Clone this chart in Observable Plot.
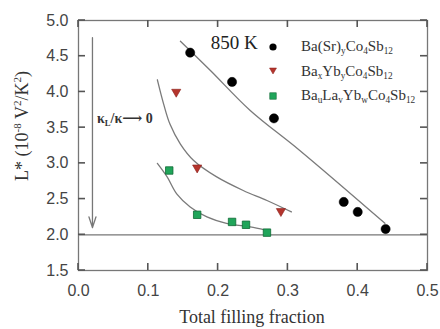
<!DOCTYPE html>
<html>
<head>
<meta charset="utf-8">
<script src="https://cdn.jsdelivr.net/npm/d3@7"></script>
<script src="https://cdn.jsdelivr.net/npm/@observablehq/plot@0.6"></script>
<style>
  html, body { margin: 0; padding: 0; background: #fff; }
  #chart { position: relative; width: 440px; height: 329px; }
  .serif { font-family: "Liberation Serif", "DejaVu Serif", serif; color: #333; position: absolute; white-space: nowrap; }
  .serif sub { font-size: 0.62em; vertical-align: -0.35em; line-height: 0; }
</style>
</head>
<body>
<div id="chart"></div>
<script>
// Axis ticks
const xTicks = [0.0, 0.1, 0.2, 0.3, 0.4, 0.5];
const yTicks = [1.5, 2.0, 2.5, 3.0, 3.5, 4.0, 4.5, 5.0];

// Ba(Sr)yCo4Sb12
const srX = [0.16, 0.22, 0.28, 0.38, 0.40, 0.44];
const srY = [4.55, 4.14, 3.63, 2.46, 2.32, 2.08];
// BaxYbyCo4Sb12
const ybX = [0.14, 0.17, 0.29];
const ybY = [4.00, 2.94, 2.33];
// BauLavYbwCo4Sb12
const laX = [0.13, 0.17, 0.22, 0.24, 0.27];
const laY = [2.90, 2.28, 2.18, 2.14, 2.03];

// Guide curves through each series
const srFitX = [0.146, 0.189, 0.246, 0.317, 0.439];
const srFitY = [4.71, 4.30, 3.74, 3.18, 2.16];
const ybFitX = [0.113, 0.122, 0.131, 0.146, 0.165, 0.198, 0.236, 0.270, 0.305];
const ybFitY = [4.17, 3.83, 3.55, 3.27, 3.04, 2.81, 2.62, 2.48, 2.32];
const laFitX = [0.113, 0.127, 0.141, 0.160, 0.184, 0.212, 0.246, 0.267];
const laFitY = [3.00, 2.81, 2.57, 2.39, 2.25, 2.16, 2.11, 2.07];

// Limit line and the kappa arrow
const limitY = [2.0];
const arrowX = 0.02, arrowTop = 4.76, arrowBottom = 2.10;
const tempLabel = "850 K";

const pts = (xs, ys) => xs.map((x, i) => ({x, y: ys[i]}));
const sr = pts(srX, srY), yb = pts(ybX, ybY), la = pts(laX, laY);

const axisColor = "#777";
const lineColor = "#7a7a7a";
const red = "#b4342c", redEdge = "#8a1f1a";
const green = "#20a55a", greenEdge = "#0f6a35";

const chart = Plot.plot({
  width: 440,
  height: 329,
  marginLeft: 78,
  marginRight: 13,
  marginTop: 20,
  marginBottom: 59,
  style: {fontFamily: "'Liberation Sans', Arial, sans-serif", fontSize: "16px", color: "#444", background: "#fff"},
  x: {domain: [0, 0.5]},
  y: {domain: [1.5, 5]},
  marks: [
    Plot.frame({stroke: axisColor, strokeWidth: 1.3}),
    Plot.axisX(xTicks, {anchor: "bottom", tickSize: 0, tickPadding: 14, tickFormat: d3.format(".1f"), fill: "#444", label: null}),
    Plot.axisY(yTicks, {anchor: "left", tickSize: 0, tickPadding: 10, tickFormat: d3.format(".1f"), fill: "#444", label: null}),
    Plot.ruleY(limitY, {stroke: axisColor, strokeWidth: 1.2}),
    Plot.arrow([{x: arrowX}], {x1: "x", x2: "x", y1: () => arrowTop, y2: () => arrowBottom, stroke: axisColor, strokeWidth: 1.3, headLength: 13, headAngle: 36}),
    Plot.line(pts(srFitX, srFitY), {x: "x", y: "y", curve: "catmull-rom", stroke: lineColor, strokeWidth: 1.3}),
    Plot.line(pts(ybFitX, ybFitY), {x: "x", y: "y", curve: "catmull-rom", stroke: lineColor, strokeWidth: 1.3}),
    Plot.line(pts(laFitX, laFitY), {x: "x", y: "y", curve: "catmull-rom", stroke: lineColor, strokeWidth: 1.3}),
    Plot.dot(sr, {x: "x", y: "y", r: 4.6, fill: "#000", stroke: "#000", strokeWidth: 0.5}),
    Plot.dot(yb, {x: "x", y: "y", symbol: "triangle", rotate: 180, r: 3.4, fill: red, stroke: redEdge, strokeWidth: 0.6}),
    Plot.dot(la, {x: "x", y: "y", symbol: "square", r: 4.2, fill: green, stroke: greenEdge, strokeWidth: 0.8}),
    Plot.text([tempLabel], {x: () => 0.223, y: () => 4.68, text: d => d, fontFamily: "'Liberation Serif', serif", fontSize: 19, fill: "#222"})
  ]
});

const root = document.getElementById("chart");
root.appendChild(chart);

const svg = d3.select(chart);
const sx = chart.scale("x"), sy = chart.scale("y");

// Inward tick marks on all four sides of the frame, placed through the scales
const tickLen = 7;
const [xl, xr] = sx.range, [yb0, yt0] = sy.range;
const tickG = svg.append("g").attr("stroke", "#555").attr("stroke-width", 1.6);
xTicks.forEach(v => {
  const px = sx.apply(v);
  tickG.append("line").attr("x1", px).attr("x2", px).attr("y1", yb0).attr("y2", yb0 - tickLen);
  tickG.append("line").attr("x1", px).attr("x2", px).attr("y1", yt0).attr("y2", yt0 + tickLen);
});
yTicks.forEach(v => {
  const py = sy.apply(v);
  tickG.append("line").attr("y1", py).attr("y2", py).attr("x1", xl).attr("x2", xl + tickLen);
  tickG.append("line").attr("y1", py).attr("y2", py).attr("x1", xr).attr("x2", xr - tickLen);
});

// Rotated y-axis title with superscripts
const yTitle = svg.append("text")
  .attr("transform", "translate(28,126) rotate(-90)")
  .attr("text-anchor", "middle")
  .attr("font-family", "'Liberation Serif', serif")
  .attr("font-size", 18)
  .attr("fill", "#333");
yTitle.append("tspan").text("L* (10");
yTitle.append("tspan").attr("font-size", 11).attr("dy", -7).text("-8");
yTitle.append("tspan").attr("dy", 7).text(" V");
yTitle.append("tspan").attr("font-size", 11).attr("dy", -7).text("2");
yTitle.append("tspan").attr("dy", 7).text("/K");
yTitle.append("tspan").attr("font-size", 11).attr("dy", -7).text("2");
yTitle.append("tspan").attr("dy", 7).text(")");

// x-axis title
svg.append("text")
  .attr("x", 252).attr("y", 323)
  .attr("text-anchor", "middle")
  .attr("font-family", "'Liberation Serif', serif")
  .attr("font-size", 18)
  .attr("fill", "#333")
  .text("Total filling fraction");

// Annotation next to the arrow
const kappa = document.createElement("div");
kappa.className = "serif";
kappa.style.left = (sx.apply(arrowX) + 5) + "px";
kappa.style.top = (sy.apply(3.6) - 10) + "px";
kappa.style.fontSize = "14px";
kappa.style.fontWeight = "bold";
kappa.innerHTML = "κ<sub>L</sub>/κ&#x27F6; 0";
root.appendChild(kappa);

// Legend
const legendItems = [
  {sym: "circle", html: "Ba(Sr)<sub>y</sub>Co<sub>4</sub>Sb<sub>12</sub>"},
  {sym: "tri", html: "Ba<sub>x</sub>Yb<sub>y</sub>Co<sub>4</sub>Sb<sub>12</sub>"},
  {sym: "square", html: "Ba<sub>u</sub>La<sub>v</sub>Yb<sub>w</sub>Co<sub>4</sub>Sb<sub>12</sub>"}
];
legendItems.forEach((item, i) => {
  const row = document.createElement("div");
  row.className = "serif";
  row.style.left = "267px";
  row.style.top = (38 + i * 24.5) + "px";
  row.style.fontSize = "15px";
  row.style.display = "flex";
  row.style.alignItems = "center";
  let icon;
  if (item.sym === "circle") icon = '<circle cx="6" cy="7" r="3.6" fill="#000"/>';
  else if (item.sym === "tri") icon = `<path d="M2.5,4 L9.5,4 L6,10 Z" fill="${red}" stroke="${redEdge}" stroke-width="0.5"/>`;
  else icon = `<rect x="2.8" y="3.8" width="6.4" height="6.4" fill="${green}" stroke="${greenEdge}" stroke-width="0.6"/>`;
  row.innerHTML = `<svg width="12" height="14" style="margin-right:22px">${icon}</svg><span>${item.html}</span>`;
  root.appendChild(row);
});
</script>
</body>
</html>
